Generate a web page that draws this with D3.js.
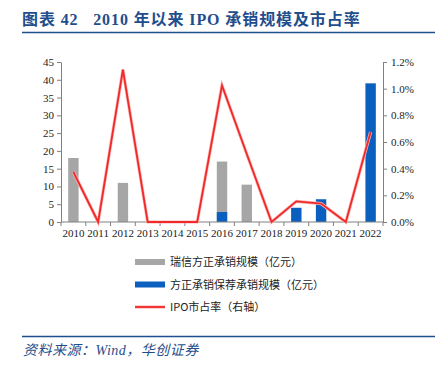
<!DOCTYPE html>
<html>
<head>
<meta charset="utf-8">
<script src="https://cdn.jsdelivr.net/npm/d3@7"></script>
<style>
  body { margin: 0; background: #fff; }
  .tick text { font-family: "Liberation Serif", "Times New Roman", serif; font-size: 11px; fill: #222; }
  .legend-text { font-family: "Noto Sans CJK SC", sans-serif; font-size: 11px; fill: #222; }
</style>
</head>
<body>
<div id="chart"></div>
<script>
  const years = ['2010', '2011', '2012', '2013', '2014', '2015', '2016', '2017', '2018', '2019', '2020', '2021', '2022'];
  // 瑞信方正承销规模（亿元）
  const ruixinValues = [18, 0, 11, 0, 0, 0, 17, 10.5, 0, 0, 0, 0, 0];
  // 方正承销保荐承销规模（亿元）
  const fangzhengValues = [0, 0, 0, 0, 0, 0, 2.8, 0, 0, 4, 6.4, 0, 39];
  // IPO市占率（右轴）
  const shareValues = [0.00375, 0, 0.01143, 0, 0, 0, 0.01025, 0.0051, 0, 0.00155, 0.00138, 0, 0.00675];
  const leftTicks = [0, 5, 10, 15, 20, 25, 30, 35, 40, 45];
  const rightTicks = [0, 0.002, 0.004, 0.006, 0.008, 0.010, 0.012];
  const legendItems = [
    { label: '瑞信方正承销规模（亿元）', color: '#a6a6a6', type: 'bar' },
    { label: '方正承销保荐承销规模（亿元）', color: '#0a5fbf', type: 'bar' },
    { label: 'IPO市占率（右轴）', color: '#ee2a2a', type: 'line' }
  ];

  const width = 435;
  const height = 369;
  const titleColor = '#1f4e8c';

  const svg = d3.select('#chart').append('svg')
    .attr('width', width)
    .attr('height', height);

  // title
  svg.append('text')
    .attr('x', 22)
    .attr('y', 25)
    .attr('fill', titleColor)
    .attr('font-family', '"Liberation Serif", "Noto Sans CJK SC", serif')
    .attr('font-weight', 'bold')
    .attr('font-size', 16)
    .attr('letter-spacing', 0.9)
    .attr('xml:space', 'preserve')
    .text('图表 42   2010 年以来 IPO 承销规模及市占率');

  svg.append('line')
    .attr('x1', 22).attr('x2', width)
    .attr('y1', 32.5).attr('y2', 32.5)
    .attr('stroke', titleColor)
    .attr('stroke-width', 1.5);

  const x = d3.scaleBand().domain(years).range([61, 383]).padding(0);
  const yLeft = d3.scaleLinear().domain([0, 45]).range([222, 62]);
  const yRight = d3.scaleLinear().domain([0, 0.012]).range([222, 62]);
  const barW = x.bandwidth() * 0.42;

  // left axis
  const leftAxis = svg.append('g')
    .attr('transform', 'translate(61,0)')
    .call(d3.axisLeft(yLeft).tickValues(leftTicks).tickSize(4).tickSizeOuter(0).tickPadding(3));
  leftAxis.selectAll('.domain, line').attr('stroke', '#808080');

  // right axis
  const rightAxis = svg.append('g')
    .attr('transform', 'translate(383,0)')
    .call(d3.axisRight(yRight).tickValues(rightTicks).tickFormat(d3.format('.1%')).tickSize(4).tickSizeOuter(0).tickPadding(4));
  rightAxis.selectAll('.domain, line').attr('stroke', '#808080');

  // bars
  const g = svg.append('g');
  g.selectAll('.bar-ruixin')
    .data(years)
    .join('rect')
    .attr('class', 'bar-ruixin')
    .attr('x', (d) => x(d) + (x.bandwidth() - barW) / 2)
    .attr('y', (d, i) => yLeft(ruixinValues[i]))
    .attr('width', barW)
    .attr('height', (d, i) => yLeft(0) - yLeft(ruixinValues[i]))
    .attr('fill', legendItems[0].color);

  g.selectAll('.bar-fz')
    .data(years)
    .join('rect')
    .attr('class', 'bar-fz')
    .attr('x', (d) => x(d) + (x.bandwidth() - barW) / 2)
    .attr('y', (d, i) => yLeft(fangzhengValues[i]))
    .attr('width', barW)
    .attr('height', (d, i) => yLeft(0) - yLeft(fangzhengValues[i]))
    .attr('fill', legendItems[1].color);

  // bottom axis (ticks between categories)
  const bottom = svg.append('g').attr('transform', 'translate(0,222)');
  bottom.append('line')
    .attr('x1', 61).attr('x2', 383)
    .attr('stroke', '#808080');
  bottom.selectAll('.sep')
    .data(years.concat(['end']))
    .join('line')
    .attr('class', 'sep')
    .attr('x1', (d, i) => 61 + i * x.bandwidth())
    .attr('x2', (d, i) => 61 + i * x.bandwidth())
    .attr('y1', 0).attr('y2', 4)
    .attr('stroke', '#808080');
  bottom.selectAll('.xlab')
    .data(years)
    .join('text')
    .attr('class', 'xlab')
    .attr('x', (d) => x(d) + x.bandwidth() / 2)
    .attr('y', 15)
    .attr('text-anchor', 'middle')
    .attr('font-family', '"Liberation Serif", serif')
    .attr('font-size', 11)
    .attr('fill', '#222')
    .text((d) => d);

  // line
  const line = d3.line()
    .x((d, i) => x(years[i]) + x.bandwidth() / 2)
    .y((d) => yRight(d));
  svg.append('path')
    .datum(shareValues)
    .attr('d', line)
    .attr('fill', 'none')
    .attr('stroke', '#ffb3b3')
    .attr('stroke-width', 3.2)
    .attr('stroke-linejoin', 'miter');
  svg.append('path')
    .datum(shareValues)
    .attr('d', line)
    .attr('fill', 'none')
    .attr('stroke', legendItems[2].color)
    .attr('stroke-width', 1.8)
    .attr('stroke-linejoin', 'miter');

  // legend
  const legend = svg.append('g').attr('transform', 'translate(135,262)');
  legendItems.forEach((item, i) => {
    const row = legend.append('g').attr('transform', `translate(0,${i * 22.5})`);
    if (item.type === 'bar') {
      row.append('rect')
        .attr('x', 0).attr('y', -3)
        .attr('width', 30).attr('height', 6)
        .attr('fill', item.color);
    } else {
      row.append('line')
        .attr('x1', 0).attr('x2', 30)
        .attr('stroke', '#ffb3b3').attr('stroke-width', 3.2);
      row.append('line')
        .attr('x1', 0).attr('x2', 30)
        .attr('stroke', item.color).attr('stroke-width', 1.8);
    }
    row.append('text')
      .attr('class', 'legend-text')
      .attr('x', 35)
      .attr('y', 4)
      .text(item.label);
  });

  // footer
  svg.append('line')
    .attr('x1', 22).attr('x2', width)
    .attr('y1', 336.5).attr('y2', 336.5)
    .attr('stroke', titleColor)
    .attr('stroke-width', 1.5);
  svg.append('text')
    .attr('x', 23)
    .attr('y', 355)
    .attr('fill', titleColor)
    .attr('font-family', '"Liberation Serif", "Noto Sans CJK SC", serif')
    .attr('font-style', 'italic')
    .attr('font-size', 14)
    .attr('letter-spacing', 0.5)
    .text('资料来源：Wind，华创证券');
</script>
</body>
</html>
